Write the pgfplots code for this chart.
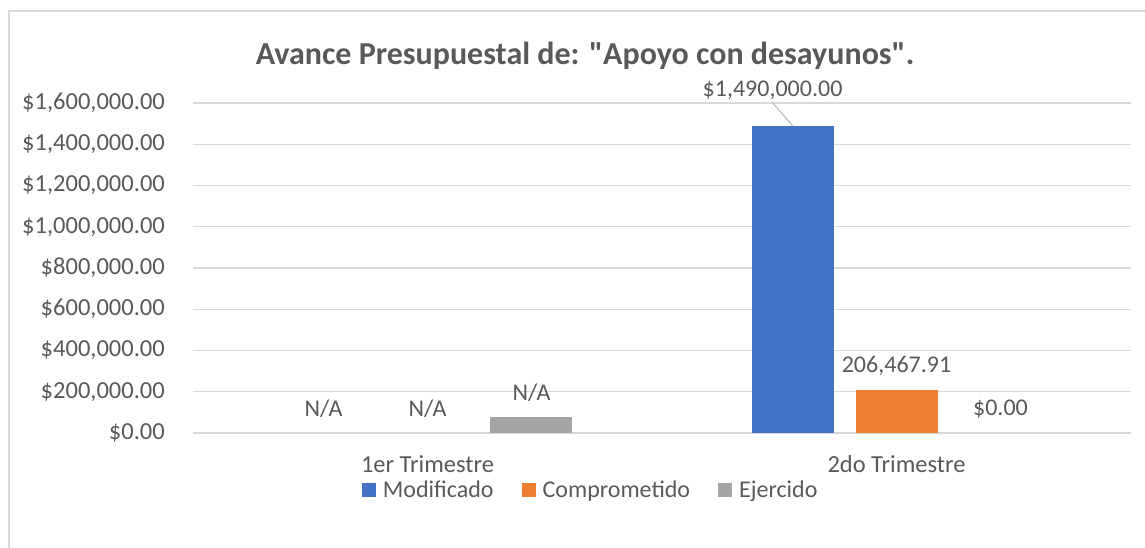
\documentclass[border=0pt]{standalone}
\usepackage{pgfplots}
\pgfplotsset{compat=1.18}
\usepackage{fontspec}
\setmainfont{Carlito}[Ligatures=TeXOff]
\definecolor{cblue}{HTML}{4472C4}
\definecolor{corange}{HTML}{ED7D31}
\definecolor{cgray}{HTML}{A5A5A5}
\definecolor{ctext}{HTML}{595959}
\definecolor{cgrid}{HTML}{D9D9D9}
\pgfplotsset{sq legend/.style={legend image code/.code={\fill[##1,draw=none] (0pt,-7pt) rectangle (14pt,7pt);}}}
\begin{document}
\begin{tikzpicture}
\useasboundingbox (0pt,0pt) rectangle (1145pt,548pt);
\draw[cgrid, line width=1.2pt] (9pt,-5pt) rectangle (1150pt,537pt);
\node[font=\fontsize{32}{38}\selectfont\bfseries, text=ctext] at (585pt,492pt) {Avance Presupuestal de: "Apoyo con desayunos".};
\begin{axis}[
  at={(193pt,115pt)}, anchor=south west,
  scale only axis, width=938pt, height=330pt,
  xmin=-0.5, xmax=1.5, ymin=0, ymax=1600000,
  axis line style={draw=none},
  major tick length=0pt,
  ymajorgrids, grid style={cgrid, line width=1.3pt},
  ytick={0,200000,400000,600000,800000,1000000,1200000,1400000,1600000},
  yticklabels={{\$0.00},{\$200,000.00},{\$400,000.00},{\$600,000.00},{\$800,000.00},{\$1,000,000.00},{\$1,200,000.00},{\$1,400,000.00},{\$1,600,000.00}},
  xtick={0,1},
  xticklabels={1er Trimestre,2do Trimestre},
  scaled y ticks=false,
  tick label style={font=\fontsize{24.5}{29}\selectfont, text=ctext},
  yticklabel style={anchor=east, inner sep=0pt, xshift=-28pt},
  xticklabel style={anchor=base, inner sep=0pt, yshift=-40pt},
  point meta=explicit symbolic,
  nodes near coords,
  every node near coord/.append style={font=\fontsize{24}{29}\selectfont, text=ctext, anchor=center, yshift=24pt},
  legend style={at={(0.424,-0.173)}, anchor=center, draw=none, fill=none,
    font=\fontsize{24}{29}\selectfont, text=ctext, legend columns=-1,
    /tikz/every even column/.append style={column sep=26pt},
    /tikz/every odd column/.append style={column sep=5pt}},
  clip=false,
]
% non-zero bars
\addplot[ybar, sq legend, bar width=0.1748, bar shift=-0.2217, fill=cblue, draw=none,
  every node near coord/.append style={xshift=-104pt}]
  coordinates {(1,1490000) []};
\addlegendentry{Modificado}
\addplot[ybar, sq legend, bar width=0.1748, bar shift=0, fill=corange, draw=none]
  coordinates {(1,206467.91) [206,467.91]};
\addlegendentry{Comprometido}
\addplot[ybar, sq legend, bar width=0.1748, bar shift=0.2217, fill=cgray, draw=none,
  every node near coord/.append style={xshift=104pt}]
  coordinates {(0,78000) [N/A]};
\addlegendentry{Ejercido}
% zero-valued entries (labels only)
\addplot[draw=none, mark=none, forget plot]
  coordinates {(-0.2217,0) [N/A] (0,0) [N/A] (1.2217,0) [\$0.00]};
\draw[cgray!80, line width=1pt] (axis cs:0.7783,1490000) -- ++(-20pt,23pt)
  node[anchor=south, inner sep=3pt, font=\fontsize{24}{29}\selectfont, text=ctext] {\$1,490,000.00};
\end{axis}
\end{tikzpicture}
\end{document}
